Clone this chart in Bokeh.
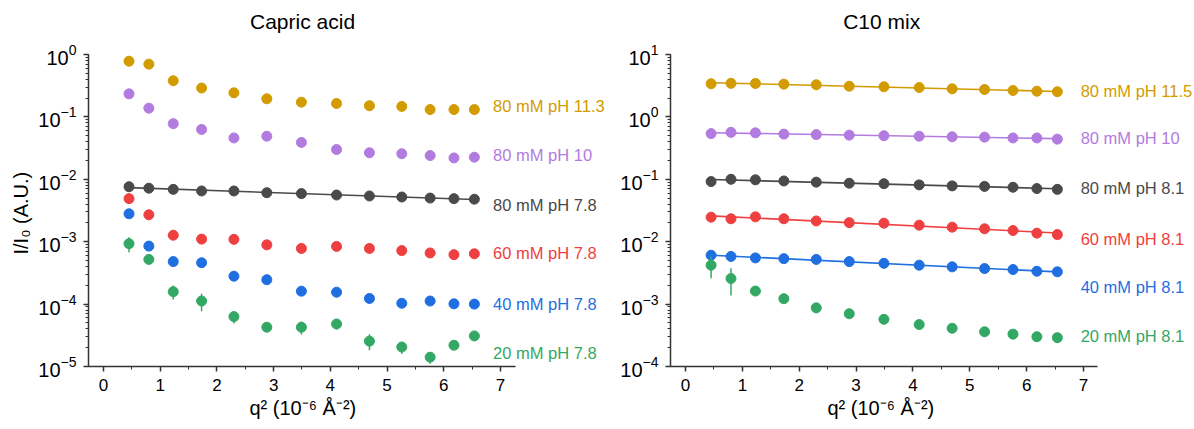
import numpy as np
from bokeh.plotting import figure
from bokeh.layouts import row
from bokeh.models import Range1d, Label, LogTicker, SingleIntervalTicker, Title
from bokeh.embed import file_html
from bokeh.resources import INLINE

# ---------------- data ----------------
q2 = [0.45, 0.80, 1.23, 1.73, 2.30, 2.88, 3.49, 4.11, 4.69, 5.26, 5.76, 6.18, 6.54]

# Capric acid
ca_names = ["80 mM pH 11.3", "80 mM pH 10", "80 mM pH 7.8", "60 mM pH 7.8", "40 mM pH 7.8", "20 mM pH 7.8"]
ca_80_113 = [0.78, 0.70, 0.38, 0.29, 0.243, 0.195, 0.172, 0.164, 0.151, 0.147, 0.131, 0.131, 0.131]
ca_80_10 = [0.234, 0.138, 0.078, 0.063, 0.046, 0.049, 0.039, 0.030, 0.0266, 0.0257, 0.024, 0.022, 0.0226]
ca_80_78 = [0.0076, 0.0072, 0.0069, 0.0065, 0.0065, 0.0061, 0.0059, 0.0056, 0.0054, 0.0052, 0.0050, 0.0049, 0.0048]
ca_60_78 = [0.0049, 0.0027, 0.00127, 0.0011, 0.00109, 0.00089, 0.00078, 0.00084, 0.00078, 0.00072, 0.00066, 0.00062, 0.00064]
ca_40_78 = [0.0028, 0.00085, 0.00048, 0.00046, 0.00028, 0.000246, 0.000161, 0.000155, 0.000123, 0.000103, 0.000112, 0.000101, 0.000100]
ca_20_78 = [0.00093, 0.00052, 0.000158, 0.000112, 0.000063, 0.0000426, 0.0000426, 0.000048, 0.0000255, 0.0000205, 0.0000141, 0.0000219, 0.0000309]
ca_20_78_err = [0.00025, 0.00003, 0.00004, 0.000035, 0.000014, 0.000003, 0.00001, 0.000009, 0.0000073, 0.0000045, 0.000003, 0.000002, 0.000005]
ca_fit = [False, False, True, False, False, False]
ca_label_y = [0.147, 0.0243, 0.0039, 0.00065, 0.000102, 0.0000167]

# C10 mix
mix_names = ["80 mM pH 11.5", "80 mM pH 10", "80 mM pH 8.1", "60 mM pH 8.1", "40 mM pH 8.1", "20 mM pH 8.1"]
mix_80_115 = [3.4, 3.45, 3.43, 3.35, 3.27, 3.1, 3.04, 2.96, 2.82, 2.75, 2.65, 2.58, 2.53]
mix_80_10 = [0.54, 0.565, 0.555, 0.53, 0.52, 0.51, 0.50, 0.49, 0.48, 0.474, 0.46, 0.46, 0.44]
mix_80_81 = [0.092, 0.100, 0.098, 0.094, 0.090, 0.0865, 0.085, 0.0814, 0.0784, 0.077, 0.0745, 0.071, 0.069]
mix_60_81 = [0.0247, 0.0233, 0.025, 0.0233, 0.0215, 0.0202, 0.0198, 0.0184, 0.0171, 0.0161, 0.0151, 0.0137, 0.0130]
mix_40_81 = [0.00607, 0.0058, 0.0055, 0.00535, 0.0052, 0.0048, 0.0045, 0.0042, 0.00395, 0.00371, 0.00358, 0.00336, 0.00329]
mix_20_81 = [0.0042, 0.00257, 0.00162, 0.00122, 0.00087, 0.0007, 0.00057, 0.00047, 0.00041, 0.00036, 0.00033, 0.00030, 0.00029]
mix_20_81_err = [0.0016, 0.0012, 0.0001, 0.00008, 0.00015, 0.00004, 0.00003, 0.00002, 0.00002, 0.00002, 0.00001, 0.00001, 0.00001]
mix_fit = [True, True, True, True, True, False]
mix_label_y = [2.58, 0.462, 0.0713, 0.01125, 0.00185, 0.000306]

colors = ["#D29B00", "#B27BE0", "#4A4A4A", "#EE4040", "#1F6FE0", "#33A864"]
FONT = "Liberation Sans"
X_LABEL = "q² (10⁻⁶ Å⁻²)"
Y_LABEL = "I/I₀ (A.U.)"

DEC_PX = 62.4          # pixels per decade
TOP_PAD = 54           # pixels of frame above the top tick


def make_fig(title, title_x, x_rng, x_bounds, frame_w, y_dec, names, series, err, fits,
             label_x, label_y, show_ylabel, mb_left, xlabel_offset):
    y_lo, y_hi = 10.0 ** y_dec[0], 10.0 ** y_dec[1]
    y_top = 10.0 ** (y_dec[1] + TOP_PAD / DEC_PX)
    p = figure(frame_width=frame_w, frame_height=int(round((y_dec[1] - y_dec[0]) * DEC_PX)) + TOP_PAD,
               y_axis_type="log",
               x_range=Range1d(*x_rng), y_range=Range1d(y_lo, y_top),
               output_backend="svg", toolbar_location=None,
               min_border_left=mb_left, min_border_right=0,
               min_border_top=0, min_border_bottom=10)
    p.outline_line_color = None
    p.grid.visible = False
    p.background_fill_color = "white"
    p.border_fill_color = "white"

    # panel title (inside the blank strip above the top tick)
    p.add_layout(Label(x=title_x, y=10.0 ** (y_dec[1] + 0.53), text=title,
                       text_font=FONT, text_font_size="21px", text_color="#000000",
                       text_align="center", text_baseline="middle"))

    p.xaxis.ticker = SingleIntervalTicker(interval=1, num_minor_ticks=2)
    p.xaxis.bounds = x_bounds
    p.yaxis.ticker = LogTicker(num_minor_ticks=10)
    p.yaxis.bounds = (y_lo, y_hi)
    for ax in (p.xaxis[0], p.yaxis[0]):
        ax.axis_line_color = "#333333"
        ax.axis_line_width = 1.5
        ax.major_tick_line_color = "#333333"
        ax.major_tick_line_width = 1.5
        ax.minor_tick_line_color = "#333333"
        ax.minor_tick_line_width = 1
        ax.major_tick_in = 0
        ax.major_tick_out = 5
        ax.minor_tick_in = 0
        ax.minor_tick_out = 3
        ax.major_label_text_font = FONT
        ax.major_label_text_color = "#000000"
    p.xaxis.major_label_text_font_size = "17px"
    p.yaxis.major_label_text_font_size = "20px"
    p.xaxis.major_label_standoff = 7
    p.yaxis.major_label_standoff = 7

    p.add_layout(Title(text=X_LABEL, align="left", offset=xlabel_offset, vertical_align="top",
                       standoff=6, text_font=FONT, text_font_size="20px",
                       text_font_style="normal", text_color="#000000"), "below")
    if show_ylabel:
        p.add_layout(Title(text=Y_LABEL, align="left", offset=112, vertical_align="bottom",
                           standoff=8, text_font=FONT, text_font_size="20px",
                           text_font_style="normal", text_color="#000000"), "left")

    x = np.array(q2)
    for i, (name, ys) in enumerate(zip(names, series)):
        y = np.array(ys)
        c = colors[i]
        if fits[i]:
            k, b = np.polyfit(x, np.log(y), 1)
            xf = np.array([x[0], x[-1]])
            p.line(xf, np.exp(b + k * xf), line_color=c, line_width=1.6)
        if err[i] is not None:
            e = np.array(err[i])
            p.segment(x0=x, y0=y - e, x1=x, y1=y + e, line_color=c, line_width=1.5)
        p.scatter(x, y, size=10, fill_color=c, line_color=c)
        p.add_layout(Label(x=label_x, y=label_y[i], text=name, text_color=c,
                           text_font=FONT, text_font_size="16.5px",
                           text_baseline="middle", text_align="left"))
    return p


p1 = make_fig("Capric acid", 3.51, (-0.2645, 8.923), (-0.2645, 7.265), 521, (-5, 0), ca_names,
              [ca_80_113, ca_80_10, ca_80_78, ca_60_78, ca_40_78, ca_20_78],
              [None, None, None, None, None, ca_20_78_err], ca_fit,
              6.87, ca_label_y, True, 88, 161)
p2 = make_fig("C10 mix", 3.45, (-0.2638, 8.917), (-0.2638, 7.246), 522, (-4, 1), mix_names,
              [mix_80_115, mix_80_10, mix_80_81, mix_60_81, mix_40_81, mix_20_81],
              [None, None, None, None, None, mix_20_81_err], mix_fit,
              6.95, mix_label_y, False, 61, 157)

layout = row(p1, p2)
open("out.html", "w").write(file_html(layout, INLINE))
